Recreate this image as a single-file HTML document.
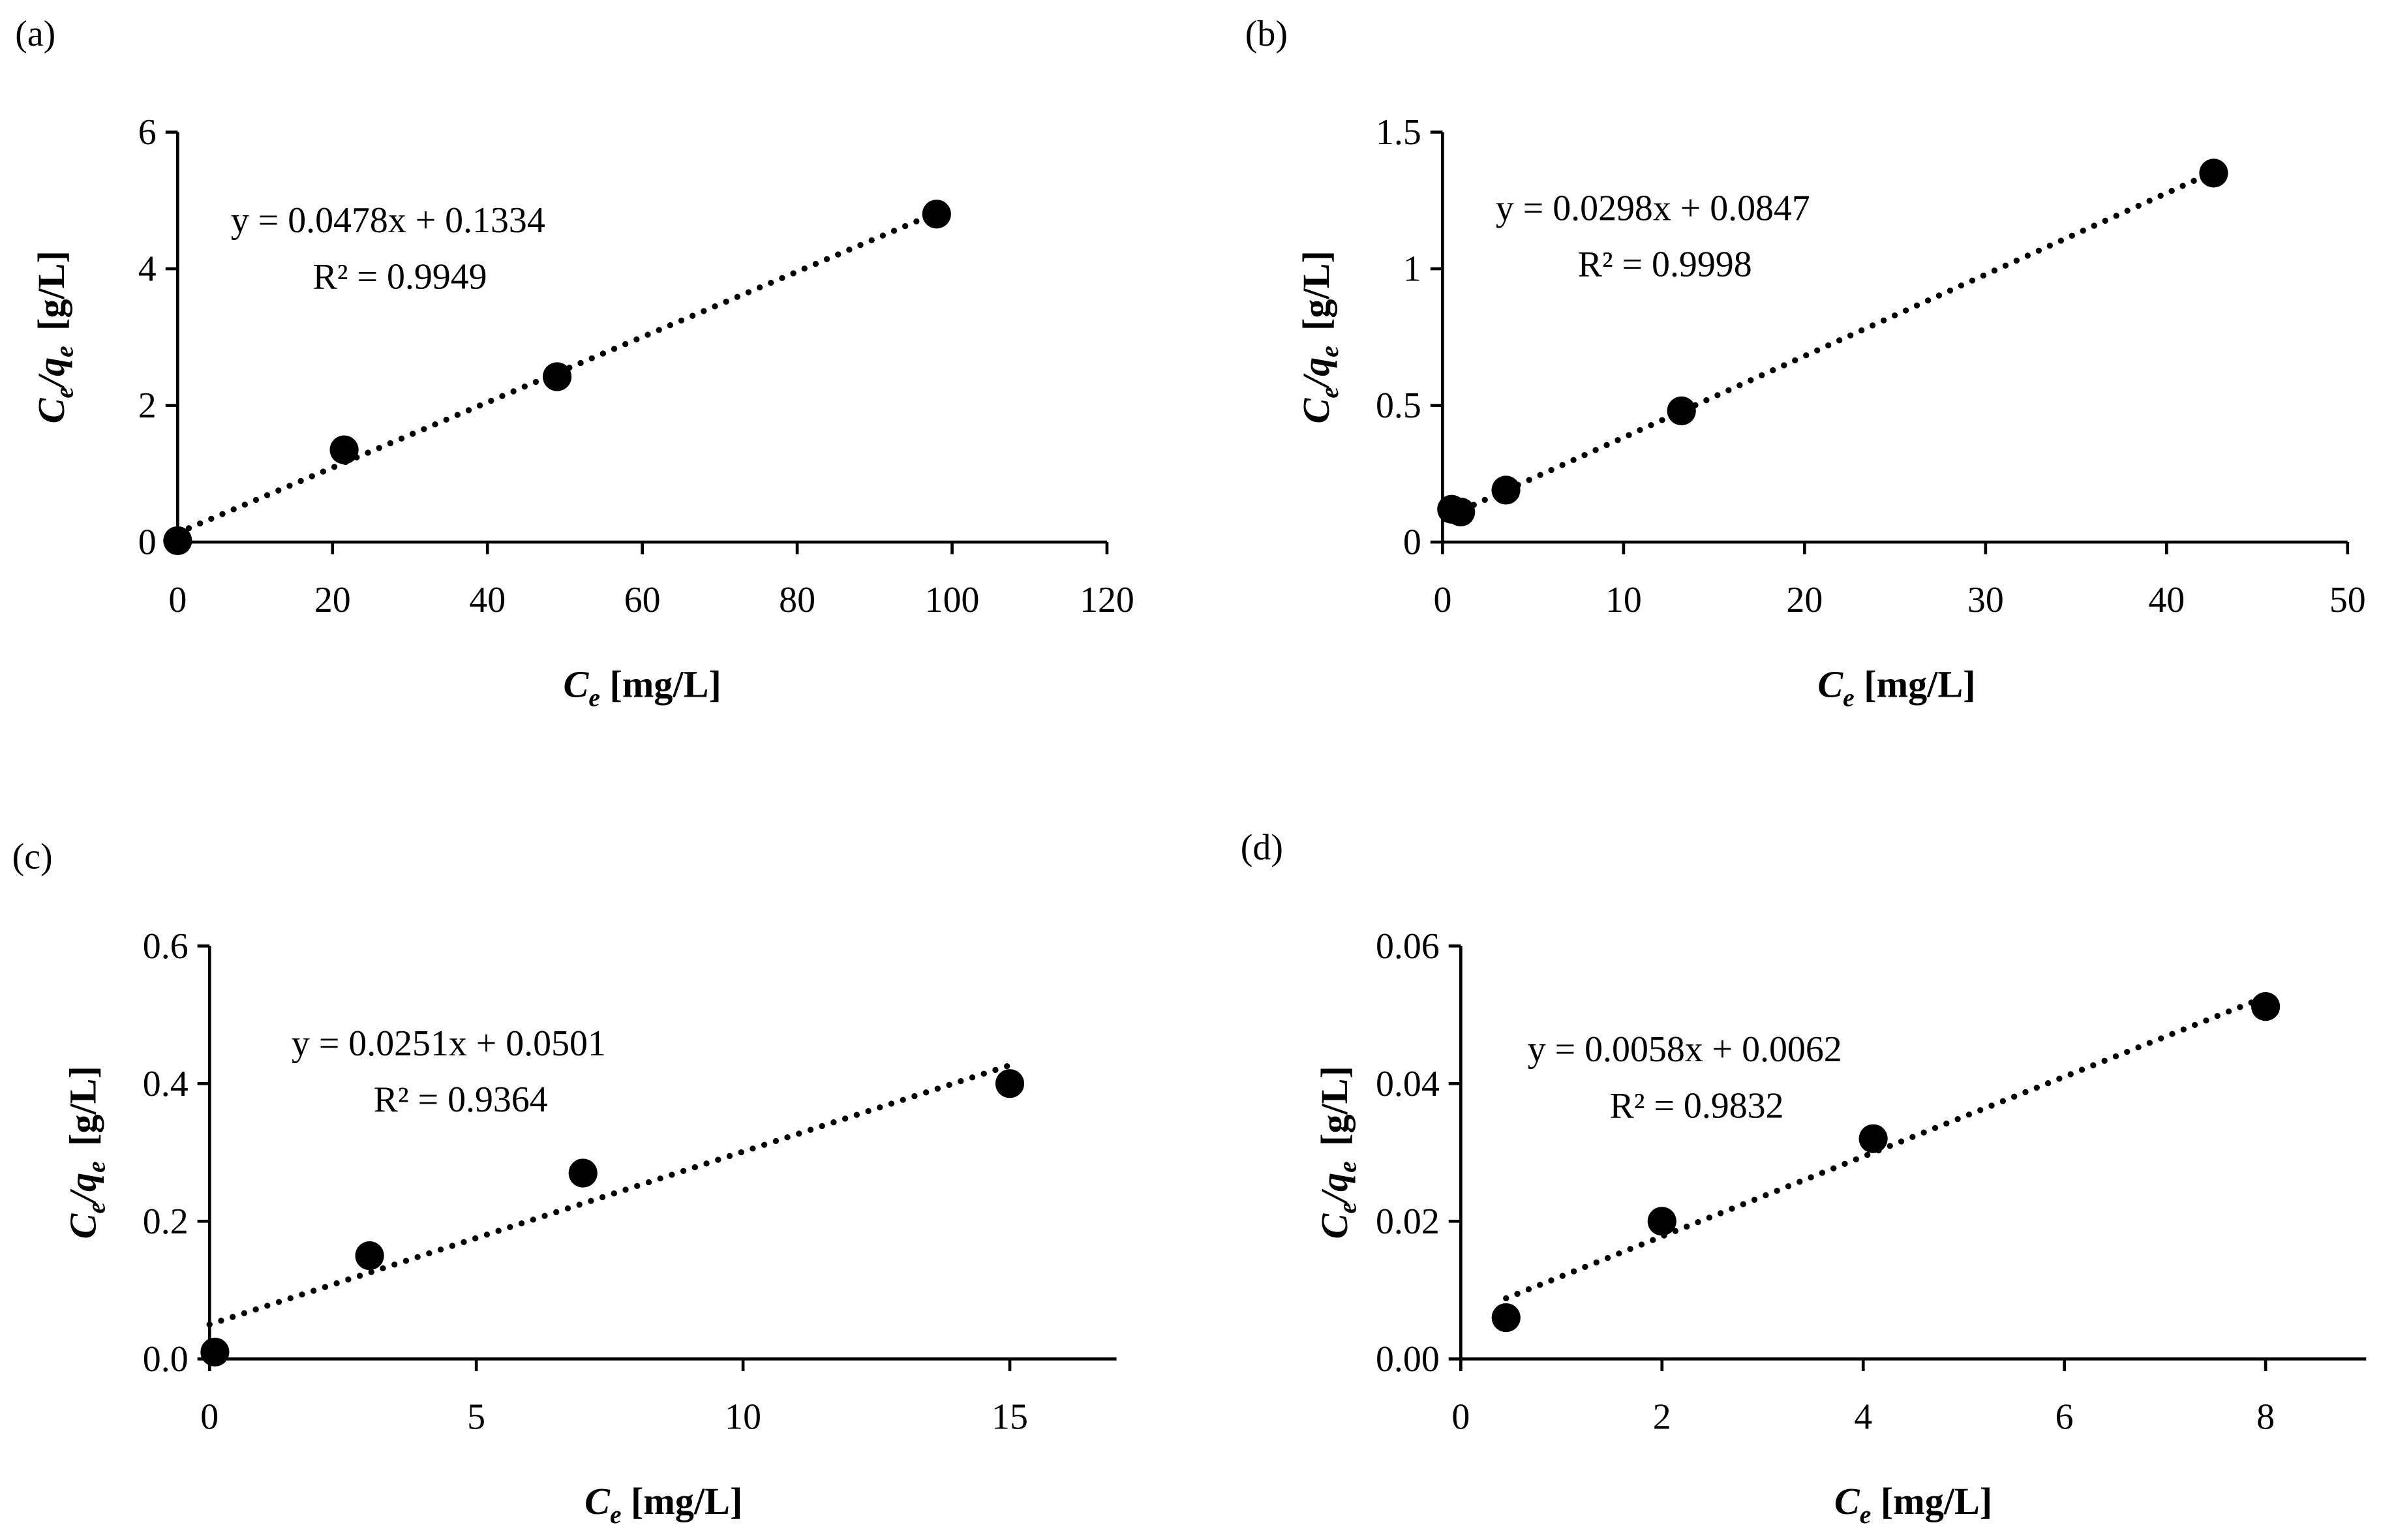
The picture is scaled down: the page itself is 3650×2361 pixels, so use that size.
<!DOCTYPE html>
<html><head><meta charset="utf-8"><style>
html,body{margin:0;padding:0;background:#fff;}
svg{display:block;}
text{font-family:"Liberation Serif",serif;fill:#000;}
</style></head><body>
<svg id="fig" width="3650" height="2361" viewBox="0 0 1568 1014.25" preserveAspectRatio="none" xmlns="http://www.w3.org/2000/svg"></svg>
<script>
// Panel (a)
const aX = [0, 21.5, 49, 98];
const aY = [0.02, 1.35, 2.42, 4.8];
const aXTicks = [0, 20, 40, 60, 80, 100, 120];
const aYTicks = ["0", "2", "4", "6"];
const aFit = [0.0478, 0.1334];
// Panel (b)
const bX = [0.5, 1, 3.5, 13.2, 42.6];
const bY = [0.12, 0.11, 0.19, 0.48, 1.35];
const bXTicks = [0, 10, 20, 30, 40, 50];
const bYTicks = ["0", "0.5", "1", "1.5"];
const bFit = [0.0298, 0.0847];
// Panel (c)
const cX = [0.1, 3, 7, 15];
const cY = [0.01, 0.15, 0.27, 0.4];
const cXTicks = [0, 5, 10, 15];
const cYTicks = ["0.0", "0.2", "0.4", "0.6"];
const cFit = [0.0251, 0.0501];
// Panel (d)
const dX = [0.45, 2, 4.1, 8];
const dY = [0.006, 0.02, 0.032, 0.0512];
const dXTicks = [0, 2, 4, 6, 8];
const dYTicks = ["0.00", "0.02", "0.04", "0.06"];
const dFit = [0.0058, 0.0062];

const NS = "http://www.w3.org/2000/svg";
const svg = document.getElementById("fig");
function mk(tag, attrs, parent) {
  const e = document.createElementNS(NS, tag);
  for (const k in attrs) e.setAttribute(k, attrs[k]);
  (parent || svg).appendChild(e);
  return e;
}

function panel(cfg) {
  const g = mk("g", {});
  
  
  const sx = v => cfg.x0 + (v - cfg.xmin) / (cfg.xmax - cfg.xmin) * (cfg.x1 - cfg.x0);
  const yNums = cfg.yt.map(Number);
  const ymax = yNums[yNums.length - 1];
  const sy = v => cfg.y0 - v / ymax * (cfg.y0 - cfg.y1);

  const lab = mk("text", {x: cfg.lx, y: cfg.ly, "font-size": 24}, g);
  lab.textContent = "(" + cfg.id + ")";
  
  

  const yax = mk("line", {x1: cfg.x0, y1: cfg.y1, x2: cfg.x0, y2: cfg.y0, stroke: "#000", "stroke-width": 2}, g);
  
  
  const xax = mk("line", {x1: cfg.x0, y1: cfg.y0, x2: sx(cfg.xend), y2: cfg.y0, stroke: "#000", "stroke-width": 2}, g);
  
  

  cfg.yt.forEach(t => {
    const y = sy(Number(t));
    mk("line", {x1: cfg.x0 - 8, y1: y, x2: cfg.x0, y2: y, stroke: "#000", "stroke-width": 2}, g);
    const tx = mk("text", {x: cfg.x0 - 14, y: y + 8, "font-size": 24, "text-anchor": "end"}, g);
    tx.textContent = t;
    
    
  });
  cfg.xt.forEach(t => {
    const x = sx(t);
    mk("line", {x1: x, y1: cfg.y0, x2: x, y2: cfg.y0 + 8, stroke: "#000", "stroke-width": 2}, g);
    const tx = mk("text", {x: x, y: cfg.y0 + 46, "font-size": 24, "text-anchor": "middle"}, g);
    tx.textContent = t;
    
    
  });

  const xa = cfg.fitFrom, xb = cfg.xs[cfg.xs.length - 1];
  const fl = mk("line", {x1: sx(xa), y1: sy(cfg.fit[0] * xa + cfg.fit[1]), x2: sx(xb), y2: sy(cfg.fit[0] * xb + cfg.fit[1]),
    stroke: "#000", "stroke-width": 4, "stroke-dasharray": "0 8", "stroke-linecap": "round"}, g);
  
  

  cfg.xs.forEach((v, i) => {
    const c = mk("circle", {cx: sx(v), cy: sy(cfg.ys[i]), r: 9.5, fill: "#000"}, g);
    
    
  });

  const eq = mk("text", {x: cfg.ex, y: cfg.ey, "font-size": 24}, g);
  eq.textContent = "y = " + cfg.fit[0].toFixed(4) + "x + " + cfg.fit[1].toFixed(4);
  
  
  const r2 = mk("text", {x: cfg.ex + 54, y: cfg.ey + 37, "font-size": 24}, g);
  r2.textContent = "R² = " + cfg.r2;
  
  

  const xt = mk("text", {x: cfg.xtx, y: cfg.y0 + 102, "font-size": 25, "font-weight": "bold", "text-anchor": "middle"}, g);
  xt.innerHTML = '<tspan font-style="italic">C</tspan><tspan font-style="italic" font-size="17" dy="6">e</tspan><tspan dy="-6"> [mg/L]</tspan>';
  
  

  const ycx = cfg.x0 - 75, ycy = (cfg.y0 + cfg.y1) / 2;
  const yt = mk("text", {x: ycx, y: ycy, "font-size": 25, "font-weight": "bold", "text-anchor": "middle",
    transform: "rotate(-90 " + ycx + " " + ycy + ")"}, g);
  yt.innerHTML = '<tspan font-style="italic">C</tspan><tspan font-style="italic" font-size="17" dy="6">e</tspan><tspan dy="-6" font-style="italic">/q</tspan><tspan font-style="italic" font-size="17" dy="6">e</tspan><tspan dy="-6" dx="10">[g/L]</tspan>';
  
  
}

panel({id: "a", lx: 10, ly: 30, x0: 117, x1: 729, xmin: 0, xmax: 120, xend: 120, y0: 357, y1: 87,
  xs: aX, ys: aY, xt: aXTicks, yt: aYTicks, fit: aFit, fitFrom: 0, r2: "0.9949", ex: 152, ey: 153, xtx: 423});
panel({id: "b", lx: 820, ly: 30, x0: 950, x1: 1546, xmin: 0, xmax: 50, xend: 50, y0: 357, y1: 87,
  xs: bX, ys: bY, xt: bXTicks, yt: bYTicks, fit: bFit, fitFrom: 0.5, r2: "0.9998", ex: 985, ey: 145, xtx: 1249});
panel({id: "c", lx: 8, ly: 572, x0: 138, x1: 665, xmin: 0, xmax: 15, xend: 17, y0: 895, y1: 623,
  xs: cX, ys: cY, xt: cXTicks, yt: cYTicks, fit: cFit, fitFrom: 0, r2: "0.9364", ex: 192, ey: 695, xtx: 437});
panel({id: "d", lx: 817, ly: 566, x0: 962, x1: 1492, xmin: 0, xmax: 8, xend: 9, y0: 895, y1: 623,
  xs: dX, ys: dY, xt: dXTicks, yt: dYTicks, fit: dFit, fitFrom: 0.45, r2: "0.9832", ex: 1006, ey: 699, xtx: 1260});
</script>
</body></html>
